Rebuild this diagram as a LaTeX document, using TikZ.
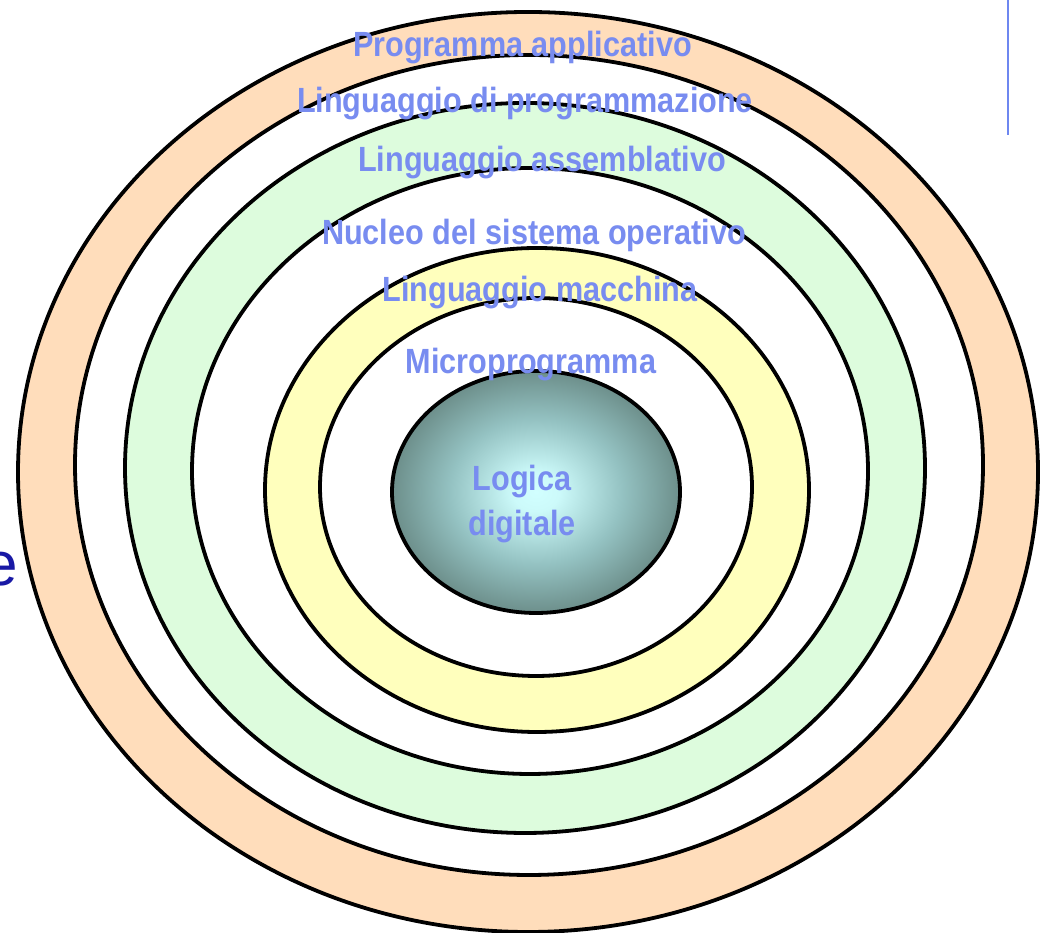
\documentclass[tikz,border=0pt]{standalone}
\usepackage{fontspec}
\setmainfont{Liberation Sans}
\newfontfamily\labfont[FakeStretch=0.875]{Liberation Sans Bold}
\newfontfamily\slidefont{Liberation Sans}
\definecolor{peach}{RGB}{255,221,187}
\definecolor{mint}{RGB}{221,252,221}
\definecolor{lemon}{RGB}{255,255,189}
\definecolor{labblue}{RGB}{120,140,240}
\definecolor{slideblue}{RGB}{25,25,165}
\definecolor{rulecol}{RGB}{110,135,240}
\pgfdeclareradialshading{coreshade}{\pgfpoint{0bp}{0bp}}{rgb(0bp)=(0.82,1,1); rgb(4bp)=(0.80,0.98,0.98); rgb(15bp)=(0.58,0.76,0.76); rgb(28bp)=(0.38,0.50,0.48); rgb(50bp)=(0.33,0.43,0.41)}
\tikzset{
  ring/.style={draw=black, line width=3.8pt},
  lab/.style={text=labblue, font=\labfont\fontsize{35}{40}\selectfont, anchor=base, inner sep=0pt},
}
\begin{document}
\begin{tikzpicture}[x=1pt,y=1pt]
\useasboundingbox (0,0) rectangle (1041,933);
% rings (outer to inner)
\filldraw[ring, fill=peach] (528,461) ellipse [x radius=510, y radius=460];
\filldraw[ring, fill=white] (529,468) ellipse [x radius=454, y radius=410];
\filldraw[ring, fill=mint]  (525,465) ellipse [x radius=400, y radius=365];
\filldraw[ring, fill=white] (530,462) ellipse [x radius=338, y radius=303];
\filldraw[ring, fill=lemon] (537,443) ellipse [x radius=272, y radius=242];
\filldraw[ring, fill=white] (536,446) ellipse [x radius=216, y radius=189];
\shade[shading=coreshade] (536,441) ellipse [x radius=144, y radius=121];
\draw[ring] (536,441) ellipse [x radius=144, y radius=121];
% labels
\node[lab] (app)  at (522.5,876) {Programma applicativo};
\node[lab] (prog) at (525,820) {Linguaggio di programmazione};
\node[lab] (asm)  at (542,761) {Linguaggio assemblativo};
\node[lab] (os)   at (534,688) {Nucleo del sistema operativo};
\node[lab] (mach) at (540,631) {Linguaggio macchina};
\node[lab] (micro) at (531,559) {Microprogramma};
\node[lab] (logic) at (522,442) {Logica};
\node[lab] (dig)  at (522,397) {digitale};
% slide remnants
\node[anchor=base west, inner sep=0pt, text=slideblue, font=\slidefont\fontsize{62}{70}\selectfont] (e) at (-16.5,347) {e};
\coordinate (ruletop) at (1008,933);
\coordinate (rulebot) at (1008,798);
\draw[rulecol, line width=2.5pt] (ruletop) -- (rulebot);
\end{tikzpicture}
\end{document}
